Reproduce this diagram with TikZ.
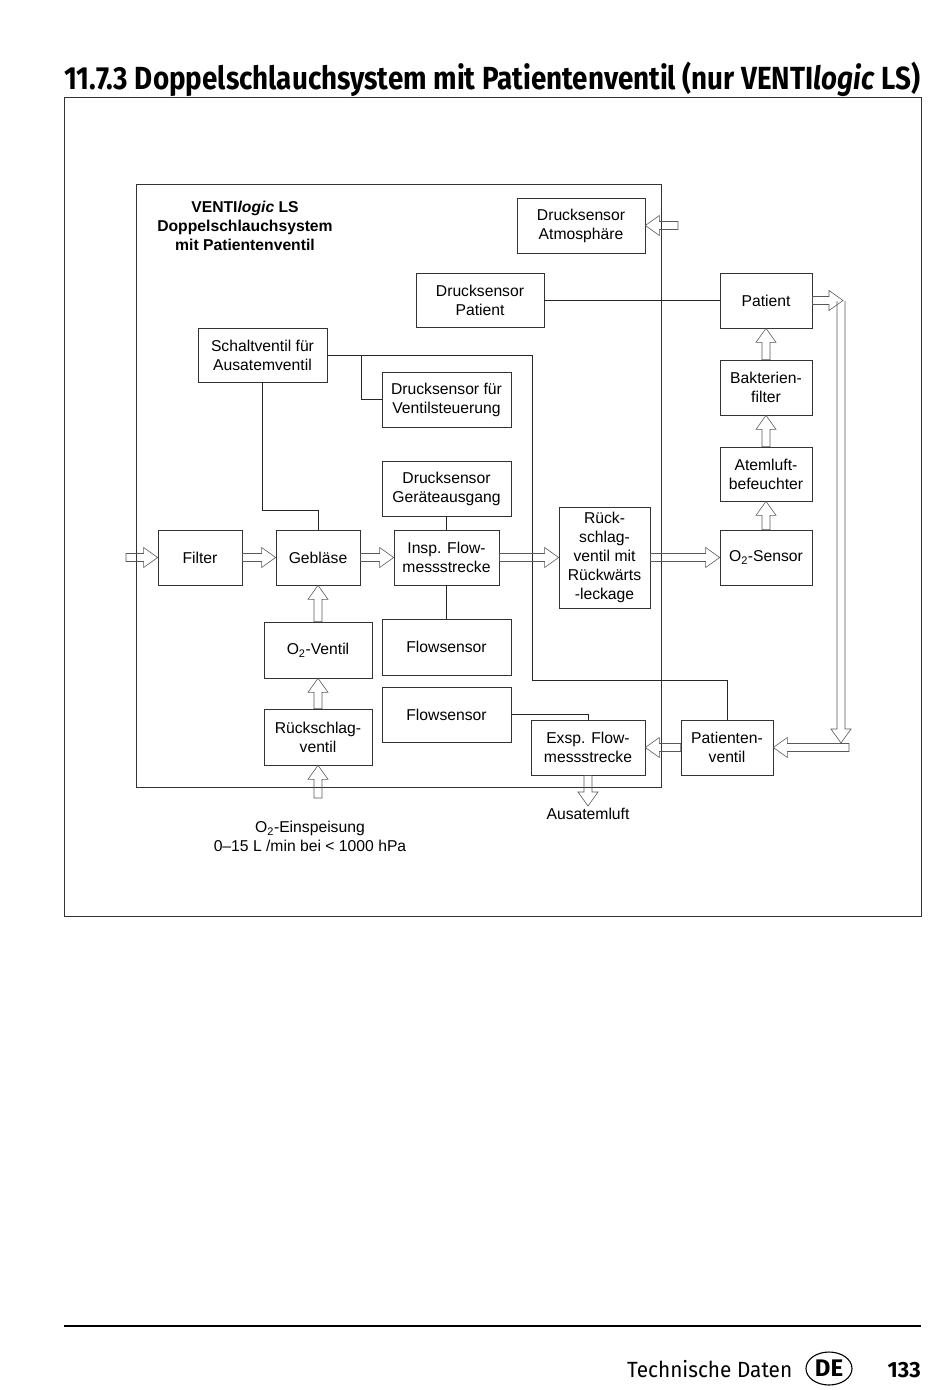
\documentclass[tikz,border=0pt]{standalone}
\usepackage{fontspec}
\usepackage{graphicx}
\setmainfont{Liberation Sans}
\newfontfamily\headfont{Fira Sans}
\usetikzlibrary{calc,shapes.geometric}

\tikzset{
  blk/.style={draw=black!80, line width=0.7pt, align=center, inner sep=0pt,
    font=\fontsize{15.7}{19}\selectfont},
  wire/.style={draw=black!85, line width=0.6pt},
  flow/.style={draw=black!65, line width=0.6pt, line join=miter},
  txt/.style={align=center, inner sep=0pt, font=\fontsize{15.7}{19}\selectfont},
}

\newcommand{\hollowarrow}[3][-- cycle]{%
  \coordinate (fa-s) at (#2);
  \coordinate (fa-e) at (#3);
  \coordinate (fa-h) at ($(fa-e)!14pt!(fa-s)$);
  \draw[flow] ($(fa-s)!4pt!90:(fa-e)$) -- ($(fa-h)!4pt!-90:(fa-s)$)
    -- ($(fa-h)!10pt!-90:(fa-s)$) -- (fa-e) -- ($(fa-h)!10pt!90:(fa-s)$)
    -- ($(fa-h)!4pt!90:(fa-s)$) -- ($(fa-s)!4pt!-90:(fa-e)$) #1;
}

\begin{document}
\begin{tikzpicture}[x=1pt,y=-1pt]
\useasboundingbox (0,0) rectangle (950,1390);

\node[anchor=base west, inner sep=0pt] (title) at (64,89)
  {\resizebox{856pt}{\height}{\headfont\bfseries\fontsize{32}{36}\selectfont
   11.7.3 Doppelschlauchsystem mit Patientenventil (nur VENTI\textit{logic} LS)}};
\draw[black!80, line width=0.8pt] (64,97) rectangle (921,916);
\draw[black!80, line width=0.7pt] (136,184) rectangle (661,787);

\node[txt, font=\fontsize{15.7}{19}\selectfont\bfseries] (sys) at (245,226)
  {VENTI\textit{logic} LS\\Doppelschlauchsystem\\mit Patientenventil};

\node[blk, minimum width=128, minimum height=55] (dsatm) at (581,225.5) {Drucksensor\\Atmosphäre};
\node[blk, minimum width=128, minimum height=54] (dspat) at (480,300.5) {Drucksensor\\Patient};
\node[blk, minimum width=92, minimum height=55] (pat) at (766,300.5) {Patient};
\node[blk, minimum width=129, minimum height=54] (schalt) at (262.5,355) {Schaltventil für\\Ausatemventil};
\node[blk, minimum width=129, minimum height=55] (dsventil) at (446.5,399.5) {Drucksensor für\\Ventilsteuerung};
\node[blk, minimum width=92, minimum height=55] (bakt) at (766,387.5) {Bakterien-\\filter};
\node[blk, minimum width=92, minimum height=54] (befeucht) at (766,474) {Atemluft-\\befeuchter};
\node[blk, minimum width=129, minimum height=55] (dsgeraet) at (446.5,488.5) {Drucksensor\\Geräteausgang};
\node[blk, minimum width=84, minimum height=55] (fil) at (200,557.5) {Filter};
\node[blk, minimum width=84, minimum height=55] (geb) at (318,557.5) {Gebläse};
\node[blk, minimum width=105, minimum height=55] (insp) at (446.5,557.5) {Insp. Flow-\\messstrecke};
\node[blk, minimum width=91, minimum height=101] (rsv) at (604.5,557.5) {Rück-\\schlag-\\ventil mit\\Rückwärts\\-leckage};
\node[blk, minimum width=92, minimum height=55] (osens) at (766,557.5) {O\textsubscript{2}-Sensor};
\node[blk, minimum width=108, minimum height=56] (oventil) at (318,650) {O\textsubscript{2}-Ventil};
\node[blk, minimum width=129, minimum height=56] (fs1) at (446.5,647) {Flowsensor};
\node[blk, minimum width=108, minimum height=56] (rsvo) at (318,737) {Rückschlag-\\ventil};
\node[blk, minimum width=129, minimum height=55] (fs2) at (446.5,714.5) {Flowsensor};
\node[blk, minimum width=114, minimum height=55] (exsp) at (588,747.5) {Exsp. Flow-\\messstrecke};
\node[blk, minimum width=92, minimum height=55] (pv) at (727,747.5) {Patienten-\\ventil};

\node[txt] (aus) at (588,814) {Ausatemluft};
\node[txt] (einsp) at (310,836.5) {O\textsubscript{2}-Einspeisung\\0–15 L /min bei < 1000 hPa};

\draw[wire] (dspat.east) -- (pat.west);
\draw[wire] (schalt.east) -- (532,355) |- (727,680) -- (pv.north);
\draw[wire] (361,355) |- (dsventil.west);
\draw[wire] (schalt.south) -- (262.5,510) -| (geb.north);
\draw[wire] (dsgeraet.south) -- (insp.north);
\draw[wire] (insp.south) -- (fs1.north);
\draw[wire] (fs2.east) -| (exsp.north);

\hollowarrow{126,557.5}{fil.west}
\hollowarrow{fil.east}{geb.west}
\hollowarrow{geb.east}{insp.west}
\hollowarrow{insp.east}{rsv.west}
\hollowarrow{rsv.east}{osens.west}
\hollowarrow{osens.north}{befeucht.south}
\hollowarrow{befeucht.north}{bakt.south}
\hollowarrow{bakt.north}{pat.south}
\hollowarrow{pat.east}{843,300.5}
\hollowarrow[]{841,301}{841,743}
\hollowarrow{849,747.5}{pv.east}
\hollowarrow{pv.west}{exsp.east}
\hollowarrow{exsp.south}{588,806}
\hollowarrow{oventil.north}{geb.south}
\hollowarrow{rsvo.north}{oventil.south}
\hollowarrow{318,798}{rsvo.south}
\hollowarrow{678,225.5}{dsatm.east}

\draw[line width=2.5pt] (64,1326) -- (921,1326);
\node[anchor=base west, inner sep=0pt] (kap) at (627,1377)
  {\resizebox{165pt}{\height}{\headfont\fontsize{22}{26}\selectfont Technische Daten}};
\node[ellipse, draw, line width=1.1pt, minimum width=46, minimum height=33, inner sep=0pt,
  font=\headfont\bfseries\fontsize{24}{26}\selectfont] (lang) at (829,1368.5) {DE};
\node[anchor=base east, inner sep=0pt, font=\headfont\bfseries\fontsize{22}{24}\selectfont]
  (seite) at (921,1377) {133};
\end{tikzpicture}
\end{document}
